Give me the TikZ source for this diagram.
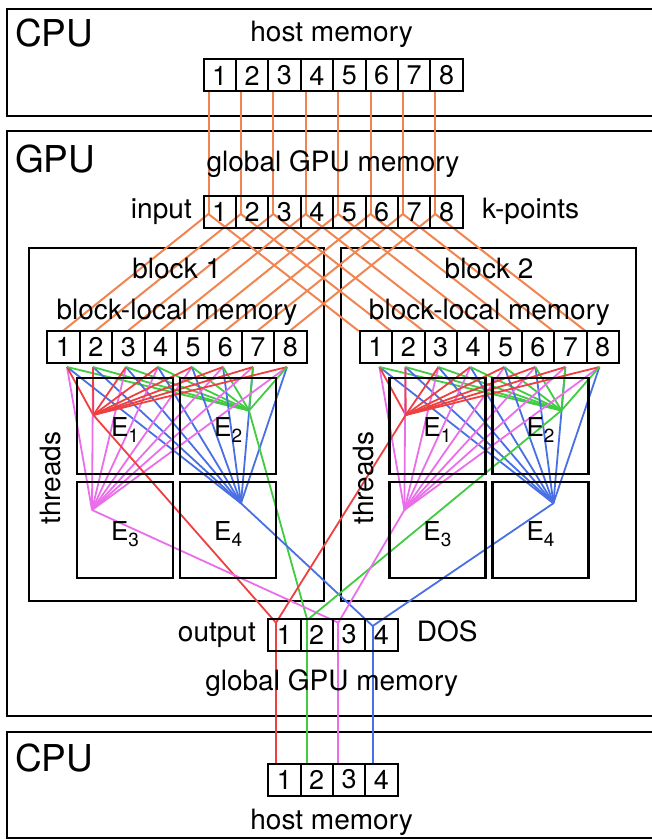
\documentclass[tikz,border=0pt]{standalone}
\usepackage{fontspec}
\setmainfont{TeX Gyre Heros}
\definecolor{corange}{RGB}{242,132,80}
\definecolor{cred}{RGB}{238,64,64}
\definecolor{cgreen}{RGB}{64,204,64}
\definecolor{cmag}{RGB}{234,110,234}
\definecolor{cblue}{RGB}{72,112,228}
\begin{document}
\begin{tikzpicture}[x=1pt,y=-1pt,
  cell/.style={draw=black, line width=2pt, minimum width=32.4pt, minimum height=32pt, inner sep=0pt, outer sep=0pt, font=\fontsize{27}{27}\selectfont},
  lbl/.style={font=\fontsize{28}{28}\selectfont, inner sep=0pt, anchor=base},
  big/.style={font=\fontsize{37}{37}\selectfont, inner sep=0pt, anchor=base west},
  frame/.style={draw=black, line width=2pt},
  ebox/.style={draw=black, line width=2.5pt, minimum width=96pt, minimum height=96pt, inner sep=0pt, outer sep=0pt},
  elbl/.style={font=\fontsize{26}{26}\selectfont, inner sep=0pt},
  oline/.style={draw=corange, line width=2pt},
  cl/.style={line width=1.8pt}]
\useasboundingbox (0,0) rectangle (652,840);
\clip (0,0) rectangle (652,840);
\newcommand{\esub}[1]{E\raisebox{-6pt}{\fontsize{19}{19}\selectfont #1}}

% frames
\draw[frame] (7,9) rectangle (680,116);
\draw[frame] (7,131) rectangle (680,716);
\draw[frame] (7,731.5) rectangle (680,838);
\draw[frame] (29,248) rectangle (323.5,600.5);
\draw[frame] (341,248) rectangle (635.5,600.5);

% orange lines
\foreach \i in {1,...,8} {
  \coordinate (hb\i) at ({208.5+32.4*(\i-1)},91.5);
  \coordinate (ip\i) at ({208.5+32.4*(\i-1)},214);
  \coordinate (ta\i) at ({62.8+32.4*(\i-1)},331);
  \coordinate (tb\i) at ({358.7+32.4*(\i-1)},331);
  \draw[oline] (hb\i) -- (ip\i);
  \draw[oline] (ip\i) -- (ta\i);
  \draw[oline] (ip\i) -- (tb\i);
}

% output / host points
\coordinate (o1) at (276,622.7);
\coordinate (o2) at (307.3,620);
\coordinate (o3) at (338.3,622.7);
\coordinate (o4) at (372.7,626);
\coordinate (d1) at (276,763);
\coordinate (d2) at (307.3,763);
\coordinate (d3) at (338.3,763);
\coordinate (d4) at (372.7,763);

% coloured lines in blocks
\foreach \b/\dx in {1/0,2/312.4} {
  \coordinate (p\b-e1) at ({93.3+\dx},415);
  \coordinate (p\b-e2) at ({249+\dx},410.5);
  \coordinate (p\b-e3) at ({92+\dx},510);
  \coordinate (p\b-e4) at ({241+\dx},503.3);
  \foreach \i/\sx in {1/67,2/93,3/126,4/158,5/192,6/223,7/253,8/287} {
    \coordinate (s\b-\i) at ({\sx+\dx},367);
    \draw[cl,cmag] (s\b-\i) -- (p\b-e3);
    \draw[cl,cblue] (s\b-\i) -- (p\b-e4);
    \draw[cl,cred] (s\b-\i) -- (p\b-e1);
    \draw[cl,cgreen] (s\b-\i) -- (p\b-e2);
  }
  \draw[cl,cred] (p\b-e1) -- (o1);
  \draw[cl,cgreen] (p\b-e2) -- (o2);
  \draw[cl,cmag] (p\b-e3) -- (o3);
  \draw[cl,cblue] (p\b-e4) -- (o4);
}
\draw[cl,cred] (o1) -- (d1);
\draw[cl,cgreen] (o2) -- (d2);
\draw[cl,cmag] (o3) -- (d3);
\draw[cl,cblue] (o4) -- (d4);

% top CPU
\node[big] (cpu1) at (15,47) {CPU};
\node[lbl] (hm1) at (331.6,41.5) {host memory};
\foreach \i in {1,...,8}
  \node[cell] (h\i) at ({203.5+16.2+32.4*(\i-1)},75.5) {\i};

% GPU
\node[big] (gpu) at (15,172) {GPU};
\node[lbl] (ggm1) at (333,171) {global GPU memory};
\node[lbl, anchor=base east] (inp) at (192,218) {input};
\foreach \i in {1,...,8}
  \node[cell] (in\i) at ({203.5+16.2+32.4*(\i-1)},212) {\i};
\node[lbl, anchor=base west] (kp) at (482,218) {k-points};

% blocks
\foreach \b/\dx in {1/0,2/312.4} {
  \node[lbl] (bt\b) at ({176.7+\dx},278) {block \b};
  \node[lbl] (bm\b) at ({177+\dx},319) {block-local memory};
  \foreach \i in {1,...,8}
    \node[cell] (b\b c\i) at ({47.3+16.2+32.4*(\i-1)+\dx},347) {\i};
  \node[ebox] (b\b-e1) at ({125+\dx},426) {};
  \node[ebox] (b\b-e2) at ({228.2+\dx},426) {};
  \node[ebox] (b\b-e3) at ({125+\dx},530) {};
  \node[ebox] (b\b-e4) at ({228.2+\dx},530) {};
  \node[elbl] (b\b-l1) at ({125+\dx},430) {\esub{1}};
  \node[elbl] (b\b-l2) at ({228.2+\dx},430) {\esub{2}};
  \node[elbl] (b\b-l3) at ({125+\dx},534) {\esub{3}};
  \node[elbl] (b\b-l4) at ({228.2+\dx},534) {\esub{4}};
  \node[lbl, rotate=90, anchor=center] (th\b) at ({51+\dx},478) {threads};
}

% output
\node[lbl, anchor=base east] (outl) at (256,641.7) {output};
\foreach \i in {1,...,4}
  \node[cell] (out\i) at ({268.3+16.15+32.3*(\i-1)},634.5) {\i};
\node[lbl, anchor=base west] (dos) at (416.7,641.7) {DOS};
\node[lbl] (ggm2) at (331.7,690) {global GPU memory};

% bottom CPU
\node[big] (cpu2) at (15,771) {CPU};
\foreach \i in {1,...,4}
  \node[cell] (hh\i) at ({268.3+16.15+32.3*(\i-1)},779.5) {\i};
\node[lbl] (hm2) at (331.6,829) {host memory};
\end{tikzpicture}
\end{document}
